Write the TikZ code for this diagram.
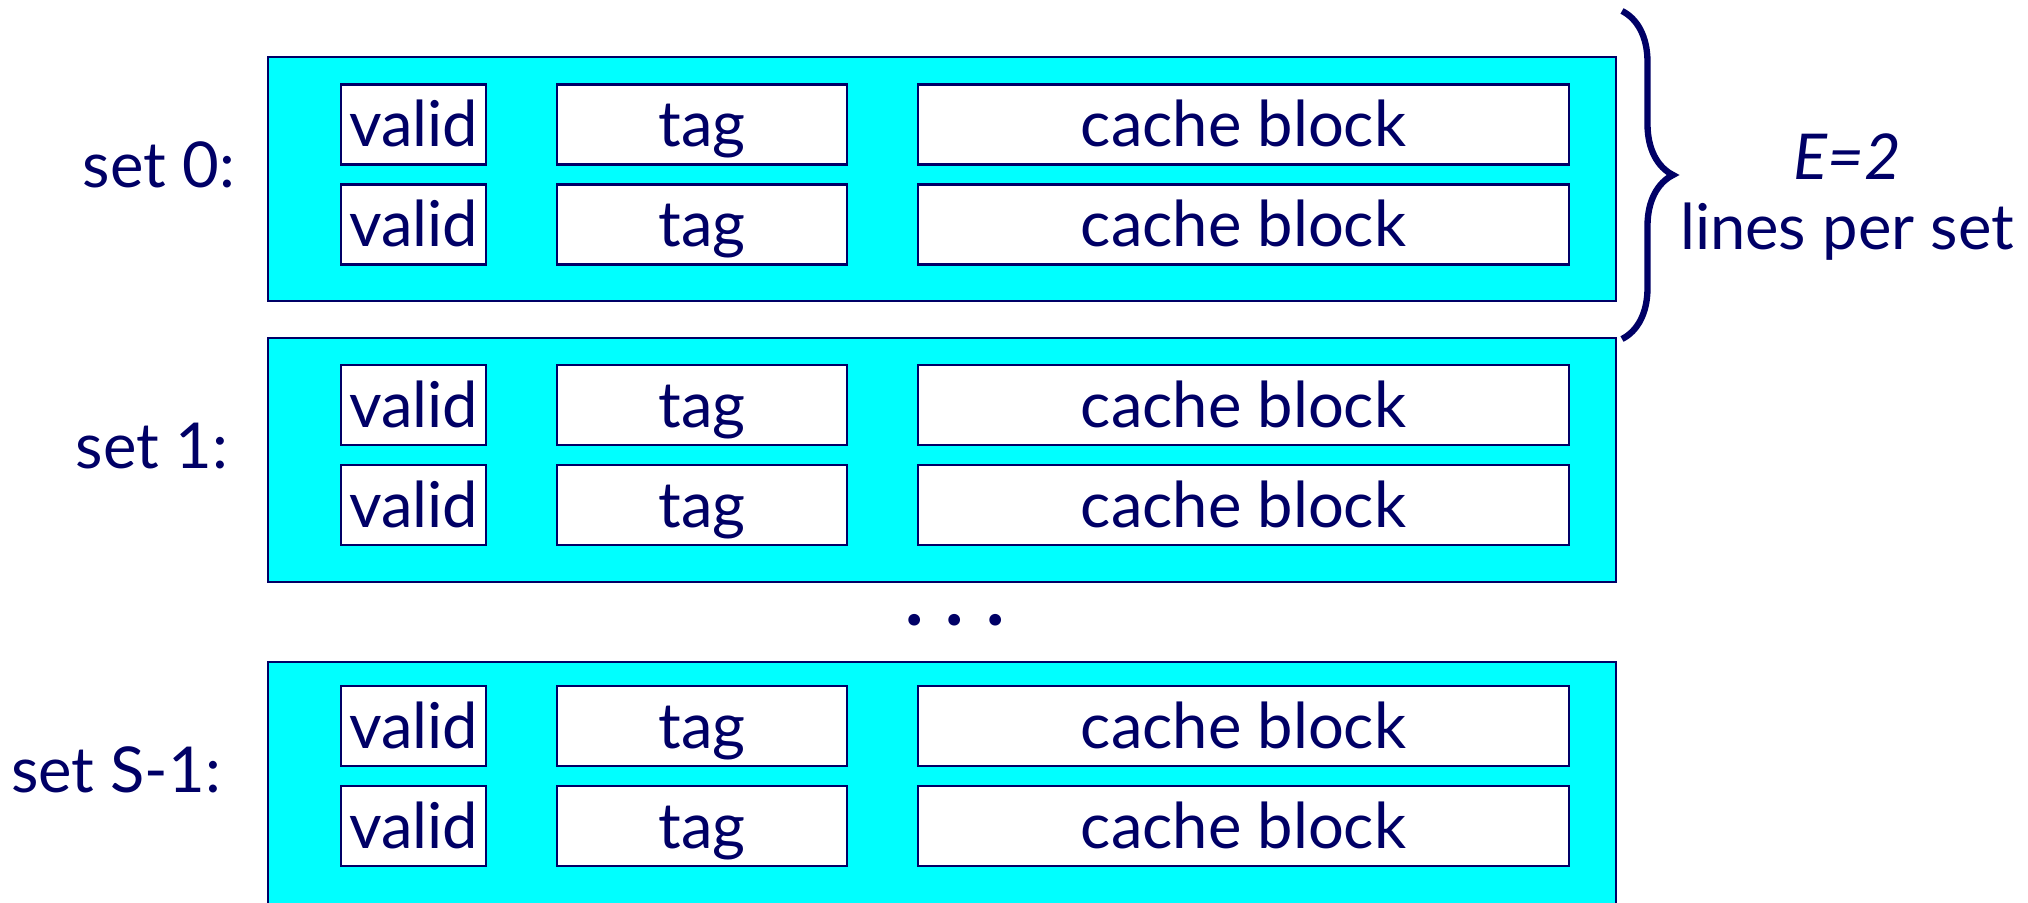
\documentclass[tikz,border=0pt]{standalone}
\usepackage{fontspec}
\setmainfont{Lato}
\usetikzlibrary{positioning,decorations.pathreplacing}
\definecolor{navy}{RGB}{0,0,102}
\definecolor{setcyan}{RGB}{0,255,255}

\begin{document}
\begin{tikzpicture}[setbox/.style = {rectangle, draw=navy, fill=setcyan, line width=0.8pt, inner sep=0pt, minimum width=13.48cm, minimum height=2.44cm},
     cell/.style = {rectangle, draw=navy, fill=white, line width=0.8pt, inner sep=0pt, outer sep=0pt, minimum height=0.8cm, text height=0.5cm, text depth=0.05cm},
     validcell/.style = {cell, minimum width=1.45cm},
     tagcell/.style = {cell, minimum width=2.90cm},
     blockcell/.style = {cell, minimum width=6.51cm},
     setlabel/.style = {inner sep=0pt, yshift=0.14cm},
     setbrace/.style = {decorate, decoration={brace, amplitude=0.51cm}, draw=navy, line width=1.8pt},
     text=navy, font=\fontsize{18}{20}\selectfont]
     \useasboundingbox (0,0) rectangle (20.28,9.03);

     \node[setbox] (set0) at (9.42,7.24) {};
     \node[setbox] (set1) at (9.42,4.43) {};
     \node[setbox] (setS) at (9.42,1.19) {};

     \node[validcell] (v0a) at (4.135,7.785) {valid};
     \node[validcell] (v0b) [below=0.2cm of v0a] {valid};
     \node[tagcell] (t0a) [right=0.71cm of v0a] {tag};
     \node[tagcell] (t0b) [right=0.71cm of v0b] {tag};
     \node[blockcell] (b0a) [right=0.71cm of t0a] {cache block};
     \node[blockcell] (b0b) [right=0.71cm of t0b] {cache block};

     \node[validcell] (v1a) at (4.135,4.98) {valid};
     \node[validcell] (v1b) [below=0.2cm of v1a] {valid};
     \node[tagcell] (t1a) [right=0.71cm of v1a] {tag};
     \node[tagcell] (t1b) [right=0.71cm of v1b] {tag};
     \node[blockcell] (b1a) [right=0.71cm of t1a] {cache block};
     \node[blockcell] (b1b) [right=0.71cm of t1b] {cache block};

     \node[validcell] (vSa) at (4.135,1.77) {valid};
     \node[validcell] (vSb) [below=0.2cm of vSa] {valid};
     \node[tagcell] (tSa) [right=0.71cm of vSa] {tag};
     \node[tagcell] (tSb) [right=0.71cm of vSb] {tag};
     \node[blockcell] (bSa) [right=0.71cm of tSa] {cache block};
     \node[blockcell] (bSb) [right=0.71cm of tSb] {cache block};

     \node[setlabel] (l0) [left=0.31cm of set0] {set 0:};
     \node[setlabel] (l1) [left=0.38cm of set1] {set 1:};
     \node[setlabel] (lS) [left=0.45cm of setS] {set S-1:};

     \node (dots) at (9.55,2.83) {\fontsize{22}{24}\selectfont\bfseries .\hspace{0.22cm}.\hspace{0.22cm}.};

     \coordinate (btop) at (16.22,8.92);
     \coordinate (bbot) at (16.22,5.64);
     \draw[setbrace] (btop) -- (bbot);
     \node[align=center] (lines) at (18.47,7.06) {\textit{E=2}\\lines per set};
\end{tikzpicture}
\end{document}
